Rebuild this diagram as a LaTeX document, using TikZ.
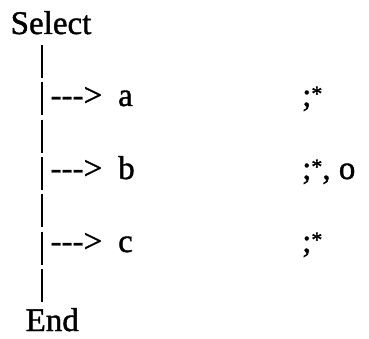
\documentclass[tikz,border=0pt]{standalone}
\usepackage{fontspec}
\setmainfont{Liberation Serif}[FakeBold=1.2]
\usetikzlibrary{calc}
\newcommand{\supstar}{\raisebox{5pt}{\fontsize{22}{22}\selectfont *}}
\begin{document}
\begin{tikzpicture}[x=1pt,y=-1pt,
  txt/.style={anchor=base west, inner sep=0pt, font=\fontsize{33}{40}\selectfont},
  bar/.style={line width=2pt}]
\useasboundingbox (0,0) rectangle (369,339);
\node[txt] (sel) at (10.5,34) {Select};
\node[txt] (arrA) at (50.5,106) {-{}-{}->};
\node[txt] (a) at (118,106) {a};
\node[txt] (ra) at (302,106) {;\supstar};
\node[txt] (arrB) at (50.5,179) {-{}-{}->};
\node[txt] (b) at (118,179) {b};
\node[txt] (rb) at (302,179) {;\supstar, o};
\node[txt] (arrC) at (50.5,252) {-{}-{}->};
\node[txt] (c) at (118,252) {c};
\node[txt] (rc) at (302,252) {;\supstar};
\node[txt] (end) at (25.5,331) {End};
\coordinate (t) at (42,45);
\foreach \i in {0,...,6}
  \draw[bar] ($(t)+(0,\i*37.3)$) -- ++(0,33);
\end{tikzpicture}
\end{document}
